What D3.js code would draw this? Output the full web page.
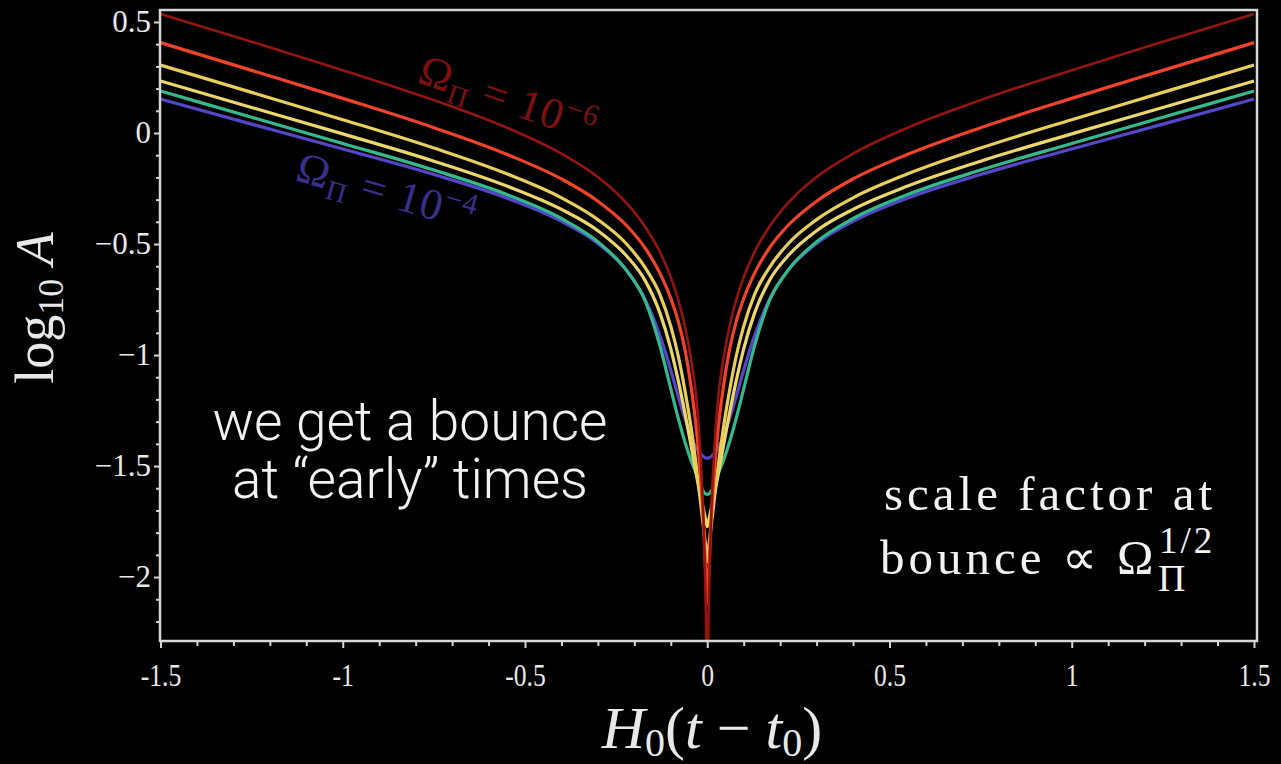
<!DOCTYPE html>
<html>
<head>
<meta charset="utf-8">
<script src="https://cdn.jsdelivr.net/npm/d3@7"></script>
<style>
  html, body { margin: 0; padding: 0; background: #000; }
  svg { display: block; }
</style>
</head>
<body>
<div id="chart"></div>
<script>
// time axis samples, H0(t - t0)
let tVals = [-1.5, -1.25, -1, -0.75, -0.55, -0.4, -0.3, -0.22, -0.17, -0.13, -0.1, -0.08, -0.06, -0.045, -0.03, -0.02, -0.01, -0.005,
  0, 0.005, 0.01, 0.02, 0.03, 0.045, 0.06, 0.08, 0.1, 0.13, 0.17, 0.22, 0.3, 0.4, 0.55, 0.75, 1, 1.25, 1.5];

// log10 A for each curve
let darkRedVals = [0.536, 0.411, 0.283, 0.148, 0.024, -0.093, -0.198, -0.318, -0.423, -0.535, -0.649, -0.749, -0.879, -1.011, -1.191, -1.41, -1.76, -2.06,
  -2.45, -2.06, -1.76, -1.41, -1.191, -1.011, -0.879, -0.749, -0.649, -0.535, -0.423, -0.318, -0.198, -0.093, 0.024, 0.148, 0.283, 0.411, 0.536];
let redVals = [0.407, 0.282, 0.156, 0.024, -0.096, -0.207, -0.307, -0.419, -0.519, -0.631, -0.745, -0.845, -0.985, -1.135, -1.33, -1.51, -1.77, -1.95,
  -2.12, -1.95, -1.77, -1.51, -1.33, -1.135, -0.985, -0.845, -0.745, -0.631, -0.519, -0.419, -0.307, -0.207, -0.096, 0.024, 0.156, 0.282, 0.407];
let yellowHiVals = [0.306, 0.183, 0.06, -0.068, -0.184, -0.292, -0.39, -0.502, -0.607, -0.727, -0.871, -1.001, -1.171, -1.321, -1.501, -1.641, -1.781, -1.851,
  -1.931, -1.851, -1.781, -1.641, -1.501, -1.321, -1.171, -1.001, -0.871, -0.727, -0.607, -0.502, -0.39, -0.292, -0.184, -0.068, 0.06, 0.183, 0.306];
let yellowLoVals = [0.234, 0.115, -0.004, -0.127, -0.239, -0.344, -0.44, -0.556, -0.666, -0.81, -0.972, -1.112, -1.272, -1.403, -1.538, -1.623, -1.698, -1.738,
  -1.773, -1.738, -1.698, -1.623, -1.538, -1.403, -1.272, -1.112, -0.972, -0.81, -0.666, -0.556, -0.44, -0.344, -0.239, -0.127, -0.004, 0.115, 0.234];
let greenVals = [0.189, 0.071, -0.047, -0.167, -0.277, -0.385, -0.49, -0.622, -0.757, -0.957, -1.152, -1.282, -1.398, -1.473, -1.535, -1.58, -1.615, -1.625,
  -1.628, -1.625, -1.615, -1.58, -1.535, -1.473, -1.398, -1.282, -1.152, -0.957, -0.757, -0.622, -0.49, -0.385, -0.277, -0.167, -0.047, 0.071, 0.189];
let blueVals = [0.153, 0.04, -0.072, -0.187, -0.293, -0.398, -0.498, -0.622, -0.752, -0.912, -1.068, -1.184, -1.292, -1.361, -1.42, -1.442, -1.458, -1.463,
  -1.465, -1.463, -1.458, -1.442, -1.42, -1.361, -1.292, -1.184, -1.068, -0.912, -0.752, -0.622, -0.498, -0.398, -0.293, -0.187, -0.072, 0.04, 0.153];

let lineColors = ['#951410', '#f2432a', '#e8cf5a', '#ecd86a', '#34b98c', '#5446c8'];
let lineWidths = [2.6, 3.2, 3.2, 3.2, 3.2, 3.2];

let xTicks = [-1.5, -1, -0.5, 0, 0.5, 1, 1.5];
let xTickLabels = ['-1.5', '-1', '-0.5', '0', '0.5', '1', '1.5'];
let yTicks = [0.5, 0, -0.5, -1, -1.5, -2];
let yTickLabels = ['0.5', '0', '\u22120.5', '\u22121', '\u22121.5', '\u22122'];

let width = 1281, height = 764;
let box = { left: 160, right: 1257, top: 10, bottom: 641 };

let xS = d3.scaleLinear().domain([-1.5, 1.5]).range([160.5, 1254]);
let yS = d3.scaleLinear().domain([-2.288, 0.554]).range([641, 10]);

let svg = d3.select('#chart')
  .append('svg')
  .attr('width', width)
  .attr('height', height)
  .style('background', '#000');

svg.append('defs').append('clipPath')
  .attr('id', 'plotClip')
  .append('rect')
  .attr('x', box.left + 1)
  .attr('y', box.top)
  .attr('width', box.right - box.left - 2)
  .attr('height', box.bottom - box.top - 1);

// curves
let series = [darkRedVals, redVals, yellowHiVals, yellowLoVals, greenVals, blueVals];
let line = d3.line()
  .x((d, i) => xS(tVals[i]))
  .y(d => yS(d))
  .curve(d3.curveMonotoneX);

let curves = svg.append('g').attr('clip-path', 'url(#plotClip)');
// blue first so the reds end up on top
[5, 4, 3, 2, 1, 0].forEach(k => {
  curves.append('path')
    .datum(series[k])
    .attr('d', line)
    .attr('fill', 'none')
    .attr('stroke', lineColors[k])
    .attr('stroke-width', lineWidths[k])
    .attr('stroke-linejoin', 'round');
});

// ticks
let axisColor = '#d6d6d6';
let minorX = d3.range(-15, 16).map(d => d / 10).filter(d => Math.abs(d * 2 - Math.round(d * 2)) > 1e-6);
let minorY = d3.range(-22, 6).map(d => d / 10).filter(d => Math.abs(d * 2 - Math.round(d * 2)) > 1e-6);

let xAxis = svg.append('g')
  .attr('transform', 'translate(0,' + box.bottom + ')')
  .call(d3.axisBottom(xS).tickValues(xTicks).tickSize(7).tickSizeOuter(0)
    .tickFormat((d, i) => xTickLabels[i]));
svg.append('g')
  .attr('transform', 'translate(0,' + box.bottom + ')')
  .call(d3.axisBottom(xS).tickValues(minorX).tickSize(5).tickSizeOuter(0).tickFormat(''));

let yAxis = svg.append('g')
  .attr('transform', 'translate(' + box.left + ',0)')
  .call(d3.axisLeft(yS).tickValues(yTicks).tickSize(6).tickSizeOuter(0)
    .tickFormat((d, i) => yTickLabels[i]));
svg.append('g')
  .attr('transform', 'translate(' + box.left + ',0)')
  .call(d3.axisLeft(yS).tickValues(minorY).tickSize(4).tickSizeOuter(0).tickFormat(''));

svg.selectAll('.domain').remove();
svg.selectAll('.tick line').attr('stroke', axisColor).attr('stroke-width', 2);

xAxis.selectAll('text')
  .attr('fill', '#e8e8e8')
  .attr('y', 22)
  .attr('dy', '0.71em')
  .attr('transform', 'scale(0.8,1)')
  .style('font-family', '"Liberation Serif", serif')
  .style('font-size', '32px');

yAxis.selectAll('text')
  .attr('fill', '#e8e8e8')
  .attr('x', -9)
  .style('font-family', '"Liberation Serif", serif')
  .style('font-size', '31px');

// frame
svg.append('rect')
  .attr('x', box.left)
  .attr('y', box.top)
  .attr('width', box.right - box.left)
  .attr('height', box.bottom - box.top)
  .attr('fill', 'none')
  .attr('stroke', axisColor)
  .attr('stroke-width', 2.5);

// axis titles
let xt = svg.append('text')
  .attr('x', 712)
  .attr('y', 748)
  .attr('text-anchor', 'middle')
  .attr('fill', '#e8e8e8')
  .style('font-family', '"Liberation Serif", serif')
  .style('font-size', '60px');
xt.append('tspan').style('font-style', 'italic').text('H');
xt.append('tspan').attr('dy', 8).style('font-size', '40px').text('0');
xt.append('tspan').attr('dy', -8).text('(');
xt.append('tspan').style('font-style', 'italic').text('t');
xt.append('tspan').text(' \u2212 ');
xt.append('tspan').style('font-style', 'italic').text('t');
xt.append('tspan').attr('dy', 8).style('font-size', '40px').text('0');
xt.append('tspan').attr('dy', -8).text(')');

let yt = svg.append('text')
  .attr('transform', 'translate(53,308) rotate(-90)')
  .attr('text-anchor', 'middle')
  .attr('fill', '#e8e8e8')
  .style('font-family', '"Liberation Serif", serif')
  .style('font-size', '54px');
yt.append('tspan').text('log');
yt.append('tspan').attr('dy', 10).style('font-size', '36px').text('10');
yt.append('tspan').attr('dy', -10).text(' ');
yt.append('tspan').style('font-style', 'italic').text('A');

// curve labels
function omegaLabel(x, y, angle, color, power) {
  let t = svg.append('text')
    .attr('transform', 'translate(' + x + ',' + y + ') rotate(' + angle + ')')
    .attr('fill', color)
    .style('font-family', '"Liberation Serif", serif')
    .style('font-size', '44px')
    .style('letter-spacing', '1px');
  t.append('tspan').text('\u03A9');
  t.append('tspan').attr('dy', 9).style('font-size', '28px').text('\u03A0');
  t.append('tspan').attr('dy', -9).text(' = 10');
  t.append('tspan').attr('dy', -16).style('font-size', '30px').text('\u2212' + power);
}
omegaLabel(416, 82, 19, '#7e1010', '6');
omegaLabel(294, 180, 16, '#3a2f8c', '4');

// notes
let note = svg.append('text')
  .attr('text-anchor', 'middle')
  .attr('fill', '#f2f2f2')
  .style('font-family', 'Roboto, "Open Sans", sans-serif')
  .style('font-weight', 300)
  .style('font-size', '55px');
note.append('tspan').attr('x', 410).attr('y', 440).text('we get a bounce');
note.append('tspan').attr('x', 410).attr('y', 498).text('at \u201Cearly\u201D times');

let note2 = svg.append('text')
  .attr('fill', '#f2f2f2')
  .style('font-family', '"Liberation Serif", serif')
  .style('font-size', '49px');
note2.append('tspan').attr('x', 884).attr('y', 510).style('letter-spacing', '4px').text('scale factor at');
note2.append('tspan').attr('x', 880).attr('y', 574).style('letter-spacing', '4px').text('bounce \u221D \u03A9');
note2.append('tspan').attr('x', 1158).attr('y', 591).style('font-size', '38px').text('\u03A0');
note2.append('tspan').attr('x', 1159).attr('y', 553).style('font-size', '37px').style('letter-spacing', '3px').text('1/2');
</script>
</body>
</html>
